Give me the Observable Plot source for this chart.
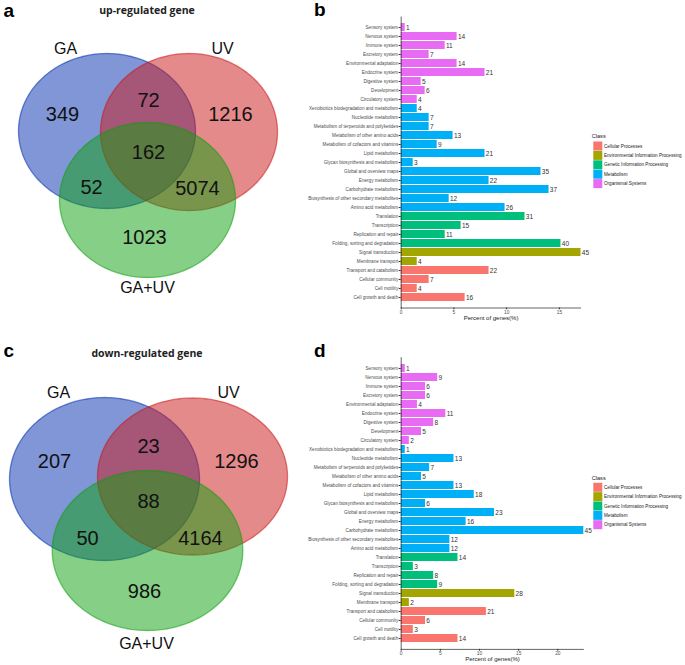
<!DOCTYPE html>
<html><head><meta charset="utf-8">
<script src="https://cdn.jsdelivr.net/npm/d3@7"></script>
<script src="https://cdn.jsdelivr.net/npm/@observablehq/plot@0.6"></script>
<style>
body{margin:0;background:#fff;}
#root{position:relative;width:685px;height:665px;overflow:hidden;background:#fff;font-family:"Liberation Sans",Arial,sans-serif;}
#root > svg, #root > div{position:absolute;}
</style></head><body><div id="root"></div>
<script>
// ---------------- DATA ----------------
const vennSets = ["GA", "UV", "GA+UV"];
const vennRegions = ["GA only", "UV only", "GA+UV only", "GA∩UV", "GA∩(GA+UV)", "UV∩(GA+UV)", "GA∩UV∩(GA+UV)"];
const upVennCounts = [349, 1216, 1023, 72, 52, 5074, 162];
const downVennCounts = [207, 1296, 986, 23, 50, 4164, 88];
const vennTitles = ["up-regulated gene", "down-regulated gene"];

const categories = [
  "Sensory system", "Nervous system", "Immune system", "Excretory system", "Environmental adaptation",
  "Endocrine system", "Digestive system", "Development", "Circulatory system",
  "Xenobiotics biodegradation and metabolism", "Nucleotide metabolism", "Metabolism of terpenoids and polyketides",
  "Metabolism of other amino acids", "Metabolism of cofactors and vitamins", "Lipid metabolism",
  "Glycan biosynthesis and metabolism", "Global and overview maps", "Energy metabolism", "Carbohydrate metabolism",
  "Biosynthesis of other secondary metabolites", "Amino acid metabolism",
  "Translation", "Transcription", "Replication and repair", "Folding, sorting and degradation",
  "Signal transduction", "Membrane transport",
  "Transport and catabolism", "Cellular community", "Cell motility", "Cell growth and death"
];
const classes = ["Cellular Processes", "Environmental Information Processing", "Genetic Information Processing", "Metabolism", "Organismal Systems"];
const categoryClass = [
  "Organismal Systems", "Organismal Systems", "Organismal Systems", "Organismal Systems", "Organismal Systems",
  "Organismal Systems", "Organismal Systems", "Organismal Systems", "Organismal Systems",
  "Metabolism", "Metabolism", "Metabolism", "Metabolism", "Metabolism", "Metabolism",
  "Metabolism", "Metabolism", "Metabolism", "Metabolism", "Metabolism", "Metabolism",
  "Genetic Information Processing", "Genetic Information Processing", "Genetic Information Processing", "Genetic Information Processing",
  "Environmental Information Processing", "Environmental Information Processing",
  "Cellular Processes", "Cellular Processes", "Cellular Processes", "Cellular Processes"
];
const upGeneCounts = [1, 14, 11, 7, 14, 21, 5, 6, 4, 4, 7, 7, 13, 9, 21, 3, 35, 22, 37, 12, 26, 31, 15, 11, 40, 45, 4, 22, 7, 4, 16];
const upPercent = [0.38, 5.30, 4.17, 2.65, 5.30, 7.95, 1.89, 2.27, 1.52, 1.52, 2.65, 2.65, 4.92, 3.41, 7.95, 1.14, 13.26, 8.33, 14.02, 4.55, 9.85, 11.74, 5.68, 4.17, 15.15, 17.05, 1.52, 8.33, 2.65, 1.52, 6.06];
const downGeneCounts = [1, 9, 6, 6, 4, 11, 8, 5, 2, 1, 13, 7, 5, 13, 18, 6, 23, 16, 45, 12, 12, 14, 3, 8, 9, 28, 2, 21, 6, 3, 14];
const downPercent = [0.52, 4.66, 3.11, 3.11, 2.07, 5.70, 4.15, 2.59, 1.04, 0.52, 6.74, 3.63, 2.59, 6.74, 9.33, 3.11, 11.92, 8.29, 23.32, 6.22, 6.22, 7.25, 1.55, 4.15, 4.66, 14.51, 1.04, 10.88, 3.11, 1.55, 7.25];
const upTicks = [0, 5, 10, 15];
const downTicks = [0, 5, 10, 15, 20];
const xLabel = "Percent of genes(%)";
const legendTitle = "Class";

// ---------------- STYLE / LAYOUT ----------------
const vennColors = ["#012DAD", "#CB1616", "#0D9F0D"];
const classColors = ["#F8766D", "#A3A500", "#00BF7D", "#00B0F6", "#E76BF3"];
const FONT = "'Liberation Sans', Arial, sans-serif";

const vennLayoutA = {
  top: 0, height: 330,
  ellipses: [[106.5, 130.5, 88.5, 77.5], [188.5, 131.5, 88.5, 78.5], [147, 199.5, 88, 77.5]],
  setLabels: [[65, 48], [222, 48], [147, 287]],
  regionLabels: [[62, 114], [230, 114], [144, 237], [148, 100], [91, 187], [197, 188], [148, 152]]
};
const vennLayoutC = {
  top: 330, height: 335,
  ellipses: [[104, 148.5, 95, 81.5], [192, 146, 95, 78.5], [147, 220, 95.3, 80]],
  setLabels: [[58, 62], [228, 62], [146, 313]],
  regionLabels: [[54, 131], [236, 131], [144, 261], [148, 116], [87, 208], [200, 208], [148, 171]]
};

const root = document.getElementById("root");

function venn(counts, L) {
  const outline = L.ellipses.flatMap(([cx, cy, rx, ry], k) =>
    d3.range(0, 360, 2).map(a => ({set: vennSets[k], x: cx + rx * Math.cos(a * Math.PI / 180), y: cy + ry * Math.sin(a * Math.PI / 180)})));
  const regions = vennRegions.map((r, i) => ({region: r, n: counts[i], x: L.regionLabels[i][0], y: L.regionLabels[i][1]}));
  const sets = vennSets.map((s, i) => ({set: s, x: L.setLabels[i][0], y: L.setLabels[i][1]}));
  const p = Plot.plot({
    width: 300, height: L.height, margin: 0,
    style: {fontFamily: FONT, background: "transparent", overflow: "visible"},
    x: {domain: [0, 300], range: [0, 300], axis: null},
    y: {domain: [0, L.height], range: [0, L.height], axis: null},
    color: {domain: vennSets, range: vennColors},
    marks: [
      Plot.line(outline, {x: "x", y: "y", z: "set", fill: "set", fillOpacity: 0.5, stroke: "set", strokeOpacity: 0.55, strokeWidth: 1.3, curve: "linear-closed"}),
      Plot.text(regions, {x: "x", y: "y", text: d => String(d.n), fontSize: 20, fill: "#111"}),
      Plot.text(sets, {x: "x", y: "y", text: "set", fontSize: 16, fill: "#111"})
    ]
  });
  p.style.left = "0px"; p.style.top = L.top + "px";
  root.appendChild(p);
}

function bars(counts, pct, xmax, ticks, o) {
  const data = categories.map((c, i) => ({cat: c, cls: categoryClass[i], n: counts[i], p: pct[i]}));
  const W = o.width - o.marginLeft - o.marginRight;
  const H = o.height - o.marginTop - o.marginBottom;
  const p = Plot.plot({
    width: o.width, height: o.height,
    marginLeft: o.marginLeft, marginRight: o.marginRight, marginTop: o.marginTop, marginBottom: o.marginBottom,
    style: {fontFamily: FONT, background: "transparent", overflow: "visible"},
    x: {domain: [0, xmax], label: null},
    y: {domain: categories, paddingInner: 0.1, paddingOuter: 0.15, label: null},
    color: {domain: classes, range: classColors},
    marks: [
      Plot.barX(data, {x: "p", y: "cat", fill: "cls"}),
      Plot.text(data, {x: "p", y: "cat", text: d => String(d.n), textAnchor: "start", dx: 0.8, fontSize: 6.5, fill: "#333"}),
      Plot.axisY({tickSize: 2, tickPadding: 1, fontSize: 4.6, fill: "#4d4d4d", stroke: "#333", label: null}),
      Plot.axisX({ticks: ticks, tickSize: 1.8, tickPadding: 0.5, fontSize: 4.8, fill: "#4d4d4d", stroke: "#333", label: null}),
      Plot.frame({stroke: "#222", strokeWidth: 0.7, strokeDasharray: `0,${W + H},${W + H}`}),
      Plot.text([xLabel], {frameAnchor: "bottom", text: d => d, dy: o.labelDy, fontSize: 6, fill: "#222"})
    ]
  });
  p.style.left = o.left + "px"; p.style.top = o.top + "px";
  root.appendChild(p);
}

venn(upVennCounts, vennLayoutA);
venn(downVennCounts, vennLayoutC);

bars(upGeneCounts, upPercent, 17.05, upTicks,
  {left: 300, top: 0, width: 385, height: 330, marginLeft: 100.7, marginRight: 104.5, marginTop: 16, marginBottom: 22.5, labelDy: 12});
bars(downGeneCounts, downPercent, 23.32, downTicks,
  {left: 300, top: 330, width: 385, height: 335, marginLeft: 100.7, marginRight: 101.7, marginTop: 26.7, marginBottom: 16.1, labelDy: 11.3});

// ---------------- overlay text: panel letters, titles, legends ----------------
const ov = d3.select(root).append("svg").attr("width", 685).attr("height", 665)
  .style("left", "0px").style("top", "0px").style("pointer-events", "none");
const letters = [["a", 3.5, 16.7], ["b", 314, 16], ["c", 3.5, 357.3], ["d", 314, 357.3]];
letters.forEach(([t, x, y]) => ov.append("text").attr("x", x).attr("y", y).text(t)
  .attr("font-family", FONT).attr("font-weight", "bold").attr("font-size", 19).attr("fill", "#000"));
[[vennTitles[0], 147, 14.2], [vennTitles[1], 147, 356.5]].forEach(([t, x, y]) => ov.append("text")
  .attr("x", x).attr("y", y).attr("text-anchor", "middle").text(t)
  .attr("font-family", "'Open Sans', sans-serif").attr("font-weight", "bold").attr("font-size", 10.5).attr("fill", "#222"));

function legend(titleY, itemY0, step) {
  ov.append("text").attr("x", 591.7).attr("y", titleY).text(legendTitle)
    .attr("font-family", FONT).attr("font-size", 5.6).attr("fill", "#222");
  classes.forEach((c, i) => {
    const cy = itemY0 + i * step;
    ov.append("rect").attr("x", 593.3).attr("y", cy - 4.5).attr("width", 9).attr("height", 9).attr("fill", classColors[i]);
    ov.append("text").attr("x", 604).attr("y", cy + 1.6).text(c)
      .attr("font-family", FONT).attr("font-size", 4.6).attr("fill", "#222");
  });
}
legend(138, 146, 9.4);
legend(480, 487.3, 9.35);
</script>
</body></html>
